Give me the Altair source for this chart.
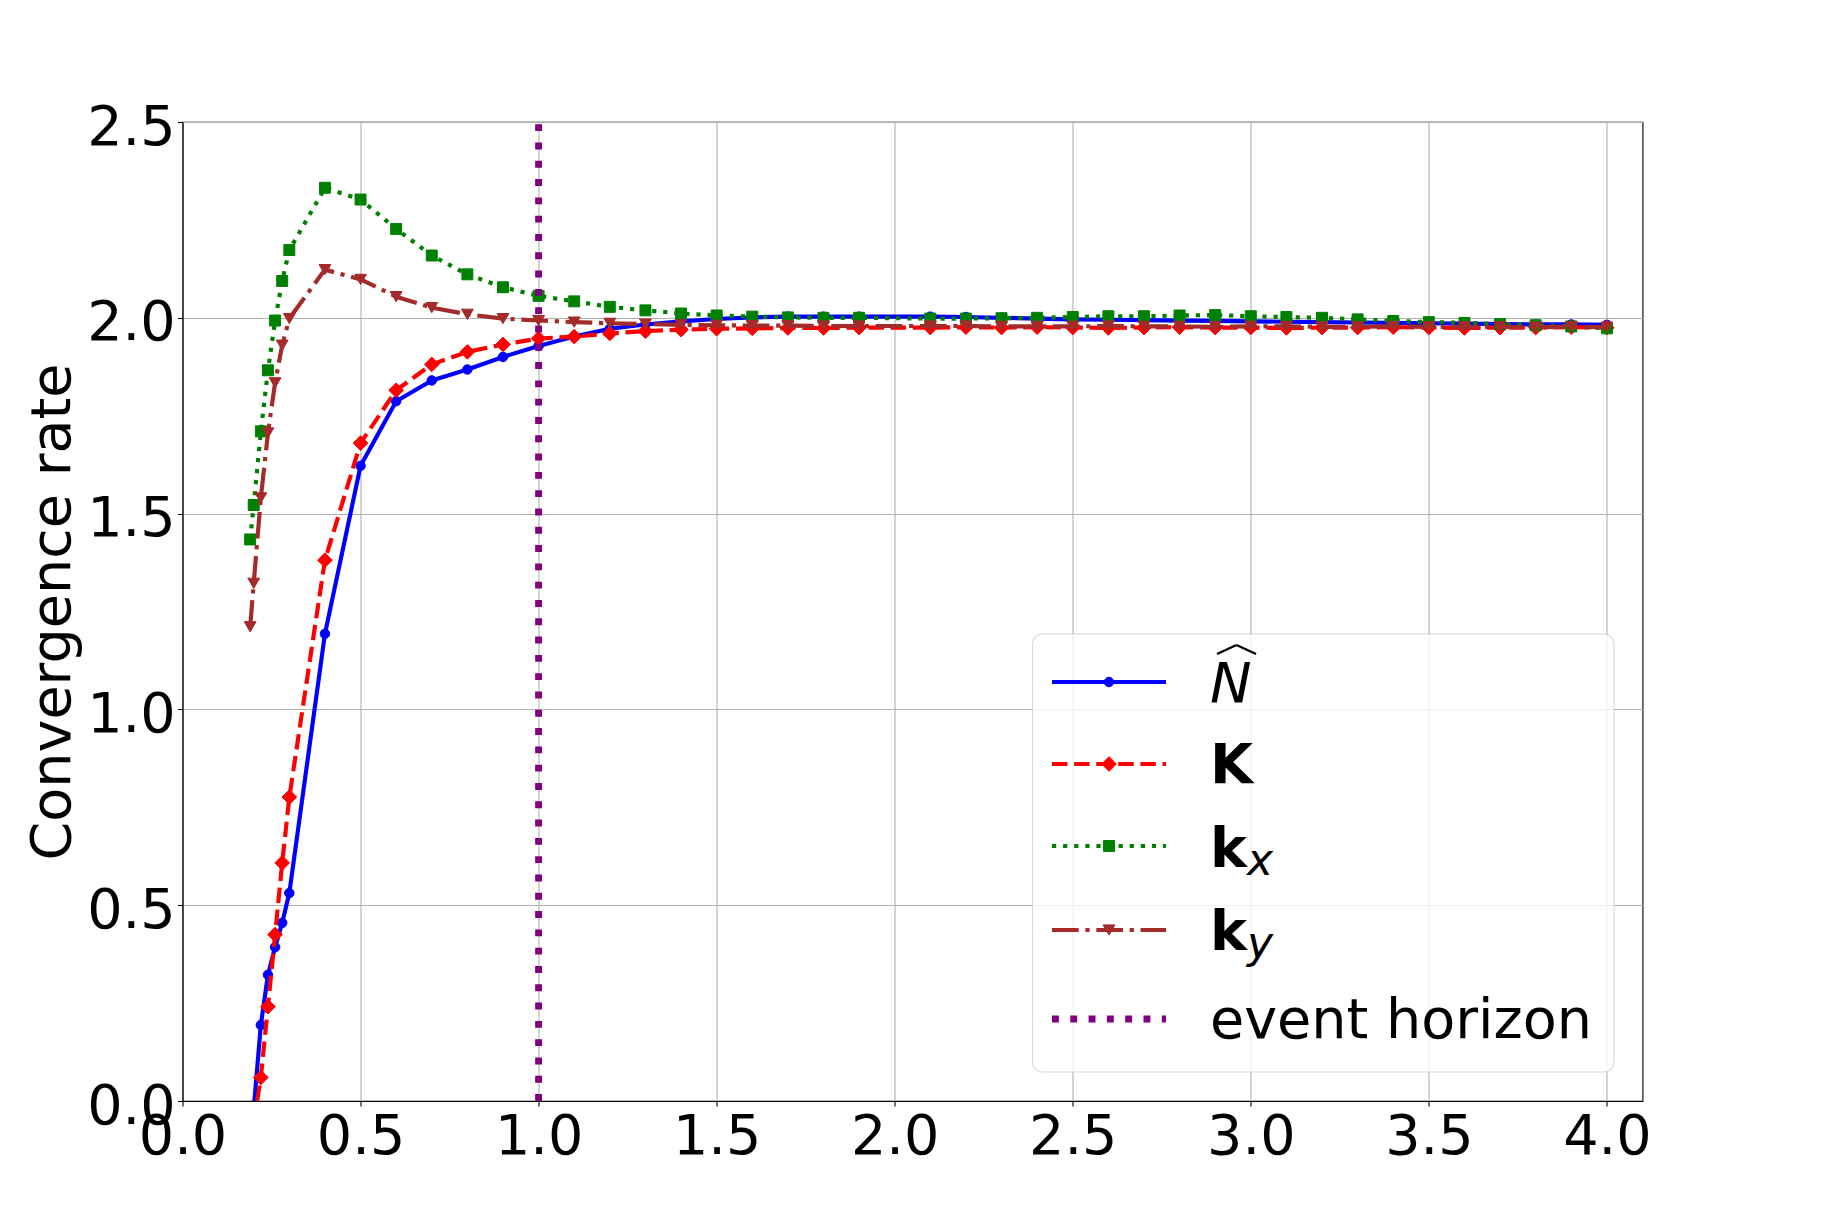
import altair as alt
import pandas as pd

# ---------------- data ----------------
x_nk = [0.2, 0.22, 0.24, 0.26, 0.28, 0.3,
        0.4, 0.5, 0.6, 0.7, 0.8, 0.9, 1.0, 1.1, 1.2, 1.3, 1.4, 1.5, 1.6, 1.7, 1.8, 1.9,
        2.1, 2.2, 2.3, 2.4, 2.5, 2.6, 2.7, 2.8, 2.9, 3.0, 3.1, 3.2, 3.3, 3.4, 3.5, 3.6, 3.7, 3.8, 3.9, 4.0]
x_k = [0.19] + x_nk

n_hat = [-0.02, 0.194, 0.322, 0.393, 0.455, 0.531,
         1.193, 1.622, 1.787, 1.840, 1.868, 1.900, 1.928, 1.952, 1.972, 1.983, 1.991, 1.997, 2.001, 2.003, 2.003, 2.003,
         2.003, 2.002, 2.000, 1.998, 1.996, 1.995, 1.994, 1.993, 1.992, 1.991, 1.990, 1.989, 1.988, 1.987, 1.986, 1.985,
         1.984, 1.983, 1.983, 1.982]
k_big = [-0.055, 0.060, 0.241, 0.425, 0.608, 0.776,
         1.381, 1.680, 1.815, 1.881, 1.913, 1.932, 1.947, 1.952, 1.960, 1.966, 1.970, 1.972, 1.973, 1.974, 1.974, 1.975,
         1.975, 1.976, 1.975, 1.976, 1.975, 1.974, 1.975, 1.976, 1.975, 1.975, 1.974, 1.975, 1.975, 1.976, 1.975, 1.974,
         1.975, 1.975, 1.976, 1.975]
k_x = [1.434, 1.522, 1.710, 1.866, 1.993, 2.094, 2.173,
       2.332, 2.302, 2.227, 2.159, 2.111, 2.078, 2.056, 2.042, 2.028, 2.019, 2.011, 2.006, 2.003, 2.001, 2.000, 2.000,
       1.998, 1.998, 1.999, 2.000, 2.002, 2.004, 2.004, 2.006, 2.007, 2.004, 2.002, 2.000, 1.996, 1.992, 1.989, 1.987,
       1.984, 1.981, 1.978, 1.973]
k_y = [1.211, 1.322, 1.540, 1.706, 1.834, 1.930, 1.998,
       2.123, 2.098, 2.054, 2.026, 2.009, 1.998, 1.993, 1.989, 1.986, 1.984, 1.982, 1.981, 1.980, 1.980, 1.979, 1.979,
       1.979, 1.979, 1.978, 1.978, 1.978, 1.979, 1.978, 1.978, 1.977, 1.978, 1.978, 1.977, 1.977, 1.978, 1.977, 1.977,
       1.977, 1.976, 1.977, 1.976]
horizon_x = [1.0]

x_ticks = [0.0, 0.5, 1.0, 1.5, 2.0, 2.5, 3.0, 3.5, 4.0]
y_ticks = [0.0, 0.5, 1.0, 1.5, 2.0, 2.5]

FONT = "DejaVu Sans"
FS = 55.6
LW = 4.17

x_enc = alt.X("x:Q",
              scale=alt.Scale(domain=[0, 4.1], nice=False, zero=False),
              axis=alt.Axis(values=x_ticks, format=".1f", title=None,
                            labelBaseline="alphabetic", labelPadding=47.6))
y_enc = alt.Y("y:Q",
              scale=alt.Scale(domain=[0, 2.5], nice=False, zero=False),
              axis=alt.Axis(values=y_ticks, format=".1f", title="Convergence rate",
                            labelBaseline="alphabetic", labelOffset=22, labelPadding=2.5,
                            titleFont=FONT, titleFontSize=FS, titleFontWeight="normal",
                            titleColor="black", titleX=-113, titleY=489.5,
                            titleAngle=270, titleBaseline="alphabetic", titleAlign="center"))

SIZES = {"circle": 90, "diamond": 215, "square": 120, "triangle-down": 140}


def series(xs, ys, color, shape, dash=None):
    df = pd.DataFrame({"x": xs, "y": ys})
    line_kw = dict(color=color, strokeWidth=LW, clip=True, strokeJoin="round")
    if dash is not None:
        line_kw["strokeDash"] = dash
        line_kw["strokeCap"] = "butt"
    else:
        line_kw["strokeCap"] = "square"
    line = alt.Chart(df).mark_line(**line_kw).encode(x=x_enc, y=y_enc)
    pts = alt.Chart(df).mark_point(shape=shape, size=SIZES[shape], filled=True, fill=color, stroke=color,
                                   strokeWidth=1, opacity=1, clip=True).encode(x=x_enc, y=y_enc)
    return [line, pts]


layers = []
layers += series(x_nk, n_hat, "blue", "circle")
layers += series(x_nk, k_big, "red", "diamond", [15.4, 6.7])
layers += series(x_k, k_x, "green", "square", [4.2, 6.9])
layers += series(x_k, k_y, "brown", "triangle-down", [26.7, 6.7, 4.2, 6.7])

hz = pd.DataFrame({"x": horizon_x})
layers.append(alt.Chart(hz).mark_rule(color="purple", strokeWidth=6.9, strokeDash=[6.9, 11.4],
                                      strokeCap="butt").encode(
    x=x_enc, y=alt.datum(0), y2=alt.datum(2.5)))

# ---------------- legend (drawn by hand, in pixel space) ----------------
one = pd.DataFrame({"a": [0]})

layers.append(alt.Chart(one).mark_rect(cornerRadius=10, fill="white", fillOpacity=0.8,
                                       stroke="#cccccc", strokeOpacity=0.8, strokeWidth=1.1).encode(
    x=alt.value(850), x2=alt.value(1431.5), y=alt.value(512), y2=alt.value(950)))

HX0, HX1, HXM = 869.5, 983.5, 926.5
TX = 1027.5
legend_rows = [
    # (row y, colour, dash, shape, line width)
    (560, "blue", None, "circle", LW),
    (642, "red", [15.4, 6.7], "diamond", LW),
    (724, "green", [4.2, 6.9], "square", LW),
    (808, "brown", [26.7, 6.7, 4.2, 6.7], "triangle-down", LW),
    (897, "purple", [6.9, 11.4], None, 6.9),
]
for ry, col, dash, shp, lw in legend_rows:
    kw = dict(color=col, strokeWidth=lw, strokeCap="butt")
    if dash is not None:
        kw["strokeDash"] = dash
    layers.append(alt.Chart(one).mark_rule(**kw).encode(
        x=alt.value(HX0), x2=alt.value(HX1), y=alt.value(ry), y2=alt.value(ry)))
    if shp is not None:
        layers.append(alt.Chart(one).mark_point(shape=shp, size=SIZES[shp], filled=True, fill=col, stroke=col,
                                                strokeWidth=1, opacity=1).encode(
            x=alt.value(HXM), y=alt.value(ry)))


def txt(s, x, y, size=FS, weight="normal", style="normal"):
    return alt.Chart(one).mark_text(text=s, font=FONT, fontSize=size, fontWeight=weight, fontStyle=style,
                                    align="left", baseline="alphabetic", color="black").encode(
        x=alt.value(x), y=alt.value(y))


layers.append(txt("N", TX, 579.7, style="italic"))
# wide hat over N
layers.append(alt.Chart(one).mark_rule(color="black", strokeWidth=2.4).encode(
    x=alt.value(1034.5), x2=alt.value(1054), y=alt.value(532), y2=alt.value(523)))
layers.append(alt.Chart(one).mark_rule(color="black", strokeWidth=2.4).encode(
    x=alt.value(1054), x2=alt.value(1073.5), y=alt.value(523), y2=alt.value(532)))
layers.append(txt("K", TX, 661.3, weight="bold"))
layers.append(txt("k", TX, 744.7, weight="bold"))
layers.append(txt("x", 1064.5, 753, size=44, style="italic"))
layers.append(txt("k", TX, 828, weight="bold"))
layers.append(txt("y", 1064.5, 836, size=44, style="italic"))
layers.append(txt("event horizon", TX, 916.3))

chart = alt.layer(*layers).properties(
    width=1460, height=979,
    padding={"left": 182.5, "top": 122, "right": 180.5, "bottom": 122},
    autosize=alt.AutoSizeParams(type="none"),
    background="white",
).configure_axis(
    labelFont=FONT, labelFontSize=FS, labelColor="black",
    domainColor="black", domainWidth=1.1,
    tickColor="black", tickWidth=1.1, tickSize=4.9,
    gridColor="#b0b0b0", gridWidth=1.1, gridOpacity=1,
    labelOverlap=False, labelFlush=False,
).configure_view(stroke="black", strokeWidth=1.1)

chart.save("out.html", embed_options={"renderer": "svg", "actions": False})
